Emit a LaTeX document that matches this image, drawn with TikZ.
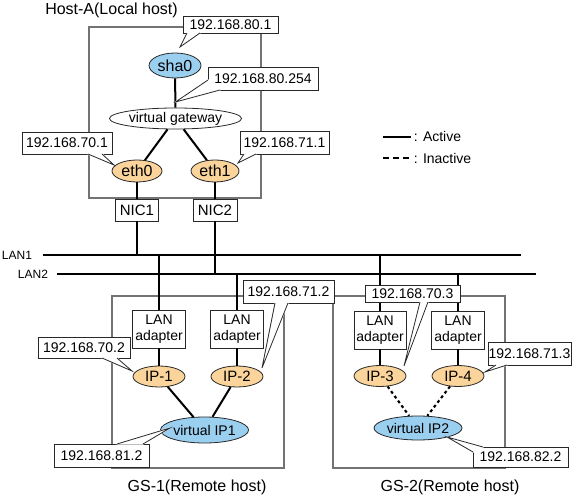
\documentclass[tikz,border=0pt]{standalone}
\usepackage{fontspec}
\setmainfont{Liberation Sans}
\usetikzlibrary{shapes.geometric}
\definecolor{ipblue}{RGB}{155,207,240}
\definecolor{iporange}{RGB}{250,212,155}
\definecolor{boxgray}{RGB}{115,115,115}
\definecolor{edge}{RGB}{40,40,40}
\newcommand{\lptr}[3]{%
  \filldraw[white,line width=1pt,line join=round] #1 -- #2 -- #3 -- cycle;
  \draw[lblline] #1 -- #2 -- #3;}
\begin{document}
\begin{tikzpicture}[x=0.75pt,y=-0.75pt,
  hostbox/.style={draw=boxgray,line width=1.1pt},
  conn/.style={line width=1.5pt,black},
  inact/.style={line width=1.6pt,black,dash pattern=on 2.2pt off 2.2pt},
  legdash/.style={line width=1.5pt,black,dash pattern=on 4.5pt off 3pt},
  lblline/.style={draw=edge,line width=0.6pt,line join=miter},
  oval/.style 2 args={ellipse,draw=edge,line width=0.6pt,inner sep=0pt,
     minimum width=#1*0.75pt,minimum height=#2*0.75pt},
  ifblue/.style={fill=ipblue},
  iforange/.style={fill=iporange},
  hw/.style 2 args={rectangle,draw=edge,fill=white,line width=0.6pt,inner sep=0pt,
     align=center,minimum width=#1*0.75pt,minimum height=#2*0.75pt},
  lbl/.style 2 args={rectangle,draw=edge,fill=white,line width=0.6pt,inner sep=0pt,
     minimum width=#1*0.75pt,minimum height=#2*0.75pt,
     font=\fontsize{10.5}{12}\selectfont},
  ttl/.style={font=\fontsize{12}{14}\selectfont,inner sep=0pt},
  big/.style={font=\fontsize{12}{14}\selectfont},
  mid/.style={font=\fontsize{11.25}{13}\selectfont},
  sml/.style={font=\fontsize{10.5}{11.5}\selectfont},
  lanlbl/.style={font=\fontsize{9}{10}\selectfont,inner sep=0pt}
]
\useasboundingbox (0,0) rectangle (577,498);

% host boxes
\draw[hostbox] (89,27) rectangle (261,198);
\draw[hostbox] (112,296) rectangle (284,468);
\draw[hostbox] (333,296) rectangle (505,468);

% titles
\node[ttl] (tA) at (111.5,10) {Host-A(Local host)};
\node[ttl] (t1) at (197,487) {GS-1(Remote host)};
\node[ttl] (t2) at (450,487) {GS-2(Remote host)};

% LAN lines
\coordinate (lan1w) at (43,255);
\coordinate (lan1e) at (521,255);
\coordinate (lan2w) at (57,274);
\coordinate (lan2e) at (536,274);
\draw[conn] (lan1w) -- (lan1e);
\draw[conn] (lan2w) -- (lan2e);
\node[lanlbl] (L1) at (17,255) {LAN1};
\node[lanlbl] (L2) at (33,274) {LAN2};

% Host-A nodes
\node[oval={52}{25},ifblue,big] (sha0) at (175,65.5) {sha0};
\node[oval={109}{21},fill=white,sml] (vgw) at (175.5,118.5) {virtual gateway};
\node[oval={50}{22},iforange,big] (eth0) at (137,171) {eth0};
\node[oval={48}{22},iforange,big] (eth1) at (215,171) {eth1};
\node[hw={43}{22},mid] (nic1) at (137,210) {NIC1};
\node[hw={44}{22},mid] (nic2) at (215,210) {NIC2};

% GS nodes
\node[hw={53}{38},sml] (ad1) at (159,329) {LAN\\adapter};
\node[hw={53}{38},sml] (ad2) at (237,329) {LAN\\adapter};
\node[hw={52}{38},sml] (ad3) at (380,330) {LAN\\adapter};
\node[hw={53}{38},sml] (ad4) at (458,330) {LAN\\adapter};
\node[oval={52}{21},iforange,mid] (ip1) at (159,376.5) {IP-1};
\node[oval={52}{21},iforange,mid] (ip2) at (237,376.5) {IP-2};
\node[oval={52}{21},iforange,mid] (ip3) at (380,376) {IP-3};
\node[oval={52}{21},iforange,mid] (ip4) at (458,376) {IP-4};
\node[oval={75}{26},ifblue,sml] (vip1) at (204.5,430) {virtual IP1};
\node[oval={74}{24},ifblue,sml] (vip2) at (418,428) {virtual IP2};

% connections
\draw[conn] (sha0) -- (vgw);
\draw[conn] (vgw) -- (eth0);
\draw[conn] (vgw) -- (eth1);
\draw[conn] (eth0) -- (nic1);
\draw[conn] (eth1) -- (nic2);
\draw[conn] (nic1.south) -- (nic1.south |- lan1w);
\draw[conn] (nic2.south) -- (nic2.south |- lan2w);
\draw[conn] (ad1.north) -- (ad1.north |- lan1w);
\draw[conn] (ad2.north) -- (ad2.north |- lan2w);
\draw[conn] (ad3.north) -- (ad3.north |- lan1w);
\draw[conn] (ad4.north) -- (ad4.north |- lan2w);
\draw[conn] (ad1) -- (ip1);
\draw[conn] (ad2) -- (ip2);
\draw[conn] (ad3) -- (ip3);
\draw[conn] (ad4) -- (ip4);
\draw[conn] (ip1) -- (vip1);
\draw[conn] (ip2) -- (vip1);
\draw[inact] (ip3) -- (vip2);
\draw[inact] (ip4) -- (vip2);

% address labels with pointers
\node[lbl={95}{17}] (a801) at (230.5,24.5) {192.168.80.1};
\lptr{(187,33)}{(180,47)}{(200,33)}
\node[lbl={110}{23}] (a80254) at (263,78.5) {192.168.80.254};
\lptr{(208,80)}{(175.5,102)}{(220,90)}
\node[lbl={90}{22}] (a701) at (67,143) {192.168.70.1};
\lptr{(88,154)}{(114,165)}{(102,154)}
\node[lbl={89}{23}] (a711) at (284.5,142.5) {192.168.71.1};
\lptr{(244,154)}{(238,163)}{(256,154)}
\node[lbl={92}{21}] (a702) at (84,347.5) {192.168.70.2};
\lptr{(102,358)}{(132,371)}{(117,358)}
\node[lbl={91}{23}] (a712) at (288.5,291.5) {192.168.71.2};
\lptr{(275,303)}{(262,368)}{(288,303)}
\node[lbl={95}{17}] (a703) at (412.5,293.5) {192.168.70.3};
\lptr{(420,302)}{(404,366)}{(428,302)}
\node[lbl={83}{23}] (a713) at (529.5,353.5) {192.168.71.3};
\lptr{(496,365)}{(485,372)}{(507,365)}
\node[lbl={95}{23}] (a812) at (101.5,455.5) {192.168.81.2};
\lptr{(117,444)}{(170,428)}{(143,444)}
\node[lbl={95}{20}] (a822) at (520.5,457) {192.168.82.2};
\lptr{(473,452)}{(447,437)}{(483,447)}

% legend
\coordinate (la) at (383,137);
\coordinate (lb) at (411,137);
\coordinate (lc) at (383,158);
\coordinate (ld) at (411,158);
\draw[conn] (la) -- (lb);
\draw[legdash] (lc) -- (ld);
\node[sml,anchor=west,inner sep=2pt] (lact) at (lb) {: Active};
\node[sml,anchor=west,inner sep=2pt] (linact) at (ld) {: Inactive};
\end{tikzpicture}
\end{document}
